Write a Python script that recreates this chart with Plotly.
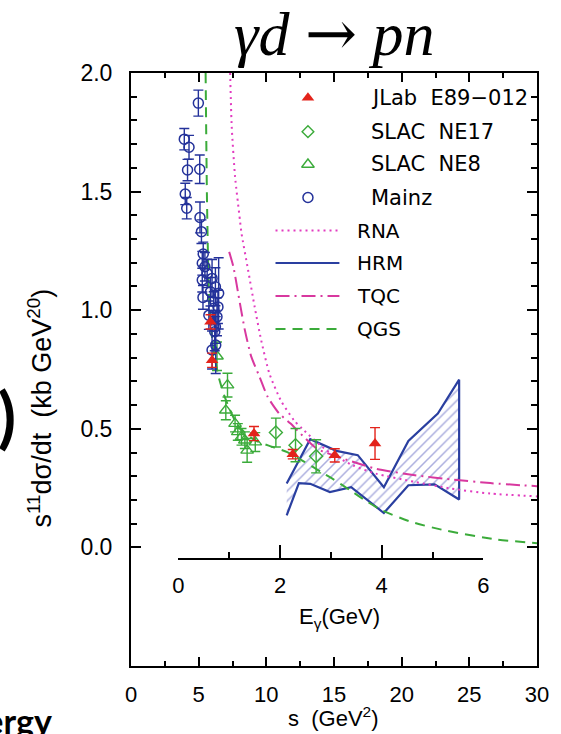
import plotly.graph_objects as go

# ---------------------------------------------------------------------------
# Data: photon energy E_gamma (GeV), scaled cross section s^11 dsigma/dt
# (kb GeV^20) and its uncertainty
# ---------------------------------------------------------------------------
mainz_E = [0.389, 0.112, 0.205, 0.176, 0.416, 0.131, 0.160, 0.421, 0.450,
           0.485, 0.466, 0.518, 0.563, 0.466, 0.659, 0.725, 0.480, 0.789,
           0.628, 0.775, 0.596, 0.692, 0.725, 0.756, 0.712, 0.659, 0.731]
mainz_val = [1.873, 1.721, 1.687, 1.591, 1.594, 1.490, 1.430, 1.391, 1.331,
             1.237, 1.198, 1.183, 1.155, 1.127, 1.134, 1.099, 1.054, 1.071,
             1.078, 1.014, 0.979, 1.008, 0.930, 0.972, 0.909, 0.832, 0.853]
mainz_err = [0.055, 0.045, 0.050, 0.045, 0.060, 0.045, 0.045, 0.065, 0.050,
             0.050, 0.050, 0.060, 0.060, 0.050, 0.080, 0.080, 0.050, 0.150,
             0.060, 0.070, 0.060, 0.070, 0.070, 0.080, 0.080, 0.080, 0.120]

jlab_E = [0.628, 0.659, 1.485, 2.249, 3.076, 3.869]
jlab_val = [0.951, 0.789, 0.480, 0.393, 0.388, 0.438]
jlab_err = [0.030, 0.030, 0.030, 0.020, 0.028, 0.067]

ne8_E = [0.756, 0.963, 0.930, 1.112, 1.166, 1.239, 1.305, 1.350, 1.510]
ne8_val = [0.806, 0.684, 0.578, 0.522, 0.487, 0.466, 0.452, 0.409, 0.444]
ne8_err = [0.060, 0.050, 0.040, 0.035, 0.035, 0.035, 0.035, 0.050, 0.040]

ne17_E = [1.916, 2.303, 2.709]
ne17_val = [0.484, 0.431, 0.384]
ne17_err = [0.061, 0.070, 0.070]

# Model curves
rna_E = [1.015, 1.046, 1.112, 1.208, 1.239, 1.369, 1.498, 1.626, 1.788,
         2.013, 2.272, 2.432, 2.916, 3.432, 3.882, 4.656, 5.365, 6.139, 7.06]
rna_val = [2.0, 1.774, 1.563, 1.380, 1.324, 1.169, 1.014, 0.874, 0.733,
           0.620, 0.536, 0.501, 0.409, 0.346, 0.311, 0.276, 0.248, 0.227, 0.215]

tqc_E = [0.996, 1.079, 1.208, 1.305, 1.433, 1.595, 1.756, 1.982, 2.206,
         2.336, 2.720, 3.302, 3.882, 4.656, 5.365, 6.139, 7.06]
tqc_val = [1.246, 1.183, 1.029, 0.916, 0.803, 0.719, 0.634, 0.564, 0.522,
           0.494, 0.417, 0.370, 0.332, 0.304, 0.287, 0.271, 0.258]

qgs_E = [0.532, 0.56, 0.60, 0.65, 0.72, 0.80, 0.90, 1.00, 1.15, 1.35, 1.55,
         1.76, 2.14, 2.47, 2.79, 3.05, 3.37, 3.70, 4.01, 4.59, 5.24, 6.27, 7.06]
qgs_val = [2.0, 1.45, 1.05, 0.90, 0.79, 0.71, 0.64, 0.585, 0.52, 0.475, 0.447,
           0.43, 0.402, 0.362, 0.32, 0.287, 0.242, 0.195, 0.156, 0.107, 0.072,
           0.033, 0.018]

hrm_upper_E = [2.129, 2.593, 3.109, 3.529, 4.043, 4.526, 5.106, 5.526]
hrm_upper = [0.269, 0.456, 0.407, 0.389, 0.254, 0.449, 0.564, 0.707]
hrm_lower_E = [2.129, 2.369, 2.593, 2.980, 3.399, 4.043, 4.526, 5.043, 5.526]
hrm_lower = [0.135, 0.271, 0.268, 0.233, 0.254, 0.145, 0.262, 0.266, 0.202]

s_ticks = [0, 5, 10, 15, 20, 25, 30]
y_ticks = [0.0, 0.5, 1.0, 1.5, 2.0]
e_ticks = [0, 2, 4, 6]

legend_markers = ["JLab  E89\u2212012", "SLAC  NE17", "SLAC  NE8", "Mainz"]
legend_lines = ["RNA", "HRM", "TQC", "QGS"]

# ---------------------------------------------------------------------------
M_D = 1.8756  # deuteron mass (GeV)


def to_s(E_list):
    """Mandelstam s for gamma d at rest: s = M_d^2 + 2 M_d E."""
    return [M_D ** 2 + 2 * M_D * e for e in E_list]


W, H = 561, 734
L, R, T, B = 131, 17, 73, 68
PW, PH = W - L - R, H - T - B


def px(x):
    return (x - L) / PW


def py(y):
    return (H - B - y) / PH


BLUE = "#24329a"
HRM_BLUE = "#2a3fa0"
RED = "#e3231b"
GREEN = "#3bab3a"
MAGENTA = "#e23cc0"
TQC_MAG = "#d8389f"
FONT = "Liberation Sans"
KEY_FONT = "DejaVu Sans"

fig = go.Figure()

# HRM band: hatched area between the bounds
band_x = to_s(hrm_upper_E) + to_s(hrm_lower_E)[::-1]
band_y = hrm_upper + hrm_lower[::-1]
fig.add_trace(go.Scatter(
    x=band_x, y=band_y, mode="lines", fill="toself",
    fillcolor="rgba(0,0,0,0)", line=dict(width=0),
    fillpattern=dict(shape="/", fgcolor="#5a60bf", bgcolor="rgba(0,0,0,0)",
                     size=7, solidity=0.22),
    hoverinfo="skip", showlegend=False))
# HRM outline (open on the low-energy side)
fig.add_trace(go.Scatter(x=band_x, y=band_y, mode="lines",
                         line=dict(color=HRM_BLUE, width=2.2),
                         showlegend=False))

fig.add_trace(go.Scatter(x=to_s(rna_E), y=rna_val, mode="lines",
                         line=dict(color=MAGENTA, width=2, dash="2px,4px",
                                   shape="spline", smoothing=0.6),
                         showlegend=False))
fig.add_trace(go.Scatter(x=to_s(tqc_E), y=tqc_val, mode="lines",
                         line=dict(color=TQC_MAG, width=2,
                                   dash="14px,5px,2px,5px",
                                   shape="spline", smoothing=0.6),
                         showlegend=False))
fig.add_trace(go.Scatter(x=to_s(qgs_E), y=qgs_val, mode="lines",
                         line=dict(color=GREEN, width=2, dash="10px,7px",
                                   shape="spline", smoothing=0.6),
                         showlegend=False))


def err(vals, color):
    return dict(type="data", array=vals, color=color, thickness=1.4, width=5)


fig.add_trace(go.Scatter(
    x=to_s(ne8_E), y=ne8_val, mode="markers", error_y=err(ne8_err, GREEN),
    marker=dict(symbol="triangle-up-open", size=11, color=GREEN,
                line=dict(width=1.4)), showlegend=False))
fig.add_trace(go.Scatter(
    x=to_s(ne17_E), y=ne17_val, mode="markers", error_y=err(ne17_err, GREEN),
    marker=dict(symbol="diamond-open", size=10, color=GREEN,
                line=dict(width=1.4)), showlegend=False))
fig.add_trace(go.Scatter(
    x=to_s(mainz_E), y=mainz_val, mode="markers", error_y=err(mainz_err, BLUE),
    marker=dict(symbol="circle-open", size=10, color=BLUE,
                line=dict(width=1.5)), showlegend=False))
fig.add_trace(go.Scatter(
    x=to_s(jlab_E), y=jlab_val, mode="markers", error_y=err(jlab_err, RED),
    marker=dict(symbol="triangle-up", size=11, color=RED), showlegend=False))

# keep the photon-energy axis in the figure
fig.add_trace(go.Scatter(x=[], y=[], xaxis="x2", yaxis="y", showlegend=False))

# ---------------------------------------------------------------------------
# Key (drawn on an overlay axis spanning the plot area)
key_rows = [97.7, 131.7, 164.5, 197.5, 230.5, 263.0, 296.0, 329.0]
mk_x = px(311)
ln_x0, ln_x1 = px(278), px(343)
key_marker_styles = [
    dict(symbol="triangle-up", size=11, color=RED),
    dict(symbol="diamond-open", size=9, color=GREEN, line=dict(width=1.4)),
    dict(symbol="triangle-up-open", size=11, color=GREEN, line=dict(width=1.4)),
    dict(symbol="circle-open", size=10, color=BLUE, line=dict(width=1.5)),
]
for i, st in enumerate(key_marker_styles):
    fig.add_trace(go.Scatter(x=[mk_x], y=[py(key_rows[i])], mode="markers",
                             marker=st, xaxis="x3", yaxis="y3",
                             showlegend=False, cliponaxis=False))
key_line_styles = [
    dict(color=MAGENTA, width=2, dash="2px,4px"),
    dict(color=HRM_BLUE, width=2.2),
    dict(color=TQC_MAG, width=2, dash="14px,5px,2px,5px"),
    dict(color=GREEN, width=2, dash="10px,7px"),
]
for i, st in enumerate(key_line_styles):
    yy = py(key_rows[4 + i])
    fig.add_trace(go.Scatter(x=[ln_x0, ln_x1], y=[yy, yy], mode="lines",
                             line=st, xaxis="x3", yaxis="y3",
                             showlegend=False, cliponaxis=False))

annotations = []
for i, name in enumerate(legend_markers):
    annotations.append(dict(x=px(373), y=py(key_rows[i]), xref="paper",
                            yref="paper", text=name, showarrow=False,
                            xanchor="left", yanchor="middle",
                            font=dict(family=KEY_FONT, size=21, color="black")))
for i, name in enumerate(legend_lines):
    annotations.append(dict(x=px(359), y=py(key_rows[4 + i]), xref="paper",
                            yref="paper", text=name, showarrow=False,
                            xanchor="left", yanchor="middle",
                            font=dict(family=KEY_FONT, size=20, color="black")))

# Titles and labels
annotations += [
    dict(x=px(338), y=py(33), xref="paper", yref="paper",
         text=("<i>\u03b3d</i> <span style=\"font-family:'DejaVu Serif'\">"
               "\u2192</span> <i>pn</i>"),
         showarrow=False, xanchor="center", yanchor="middle",
         font=dict(family="Liberation Serif", size=62, color="black")),
    dict(x=px(38), y=py(408), xref="paper", yref="paper",
         text="s<sup>11</sup>d\u03c3/dt  (kb GeV<sup>20</sup>)",
         showarrow=False, textangle=-90, xanchor="center", yanchor="middle",
         font=dict(family=FONT, size=27, color="black")),
    dict(x=px(336), y=py(717), xref="paper", yref="paper",
         text="s  (GeV<sup>2</sup>)", showarrow=False,
         xanchor="center", yanchor="middle",
         font=dict(family=FONT, size=22, color="black")),
    dict(x=px(343), y=py(618), xref="paper", yref="paper",
         text="E<sub>\u03b3</sub>(GeV)", showarrow=False,
         xanchor="center", yanchor="middle",
         font=dict(family=FONT, size=22, color="black")),
    # surrounding slide text, cut by the frame
    dict(x=px(16), y=py(415), xref="paper", yref="paper", text="<b>)</b>",
         showarrow=False, xanchor="right", yanchor="middle",
         font=dict(family="Lato", size=66, color="black")),
    dict(x=px(53), y=py(720), xref="paper", yref="paper", text="<b>Energy</b>",
         showarrow=False, xanchor="right", yanchor="middle",
         font=dict(family="Lato", size=34, color="black")),
]

y_minor = [round(0.1 * k, 1) for k in range(1, 20) if k % 5]

fig.update_layout(
    width=W, height=H, margin=dict(l=L, r=R, t=T, b=B),
    paper_bgcolor="white", plot_bgcolor="rgba(0,0,0,0)", showlegend=False,
    annotations=annotations,
    xaxis=dict(range=[0, 30], tickvals=s_ticks, ticks="inside", ticklen=9,
               tickwidth=1.5, tickcolor="black",
               minor=dict(dtick=2.5, tick0=0, ticks="inside", ticklen=5,
                          tickwidth=1.5, tickcolor="black"),
               showline=True, linecolor="black", linewidth=2, mirror="ticks",
               showgrid=False, zeroline=False, ticklabelstandoff=8,
               tickfont=dict(family=FONT, size=22, color="black")),
    yaxis=dict(range=[-0.5, 2.0], tickvals=y_ticks, tickformat=".1f",
               ticks="inside", ticklen=10, tickwidth=1.5, tickcolor="black",
               minor=dict(tickvals=y_minor, ticks="inside", ticklen=6,
                          tickwidth=1.5, tickcolor="black"),
               showline=True, linecolor="black", linewidth=2, mirror="ticks",
               showgrid=False, zeroline=False, ticklabelstandoff=12,
               tickfont=dict(family=FONT, size=23, color="black")),
    xaxis2=dict(range=[0, 6], domain=[px(179.2), px(489.5)], anchor="free",
                position=py(559.3), side="bottom", tickvals=e_ticks,
                ticks="inside", ticklen=13, tickwidth=1.5, tickcolor="black",
                minor=dict(dtick=1, tick0=0, ticks="inside", ticklen=6,
                           tickwidth=1.5, tickcolor="black"),
                showline=True, linecolor="black", linewidth=2,
                showgrid=False, zeroline=False, ticklabelstandoff=6,
                tickfont=dict(family=FONT, size=22, color="black")),
    xaxis3=dict(range=[0, 1], overlaying="x", visible=False),
    yaxis3=dict(range=[0, 1], overlaying="y", visible=False),
)

fig.write_html("out.html")
